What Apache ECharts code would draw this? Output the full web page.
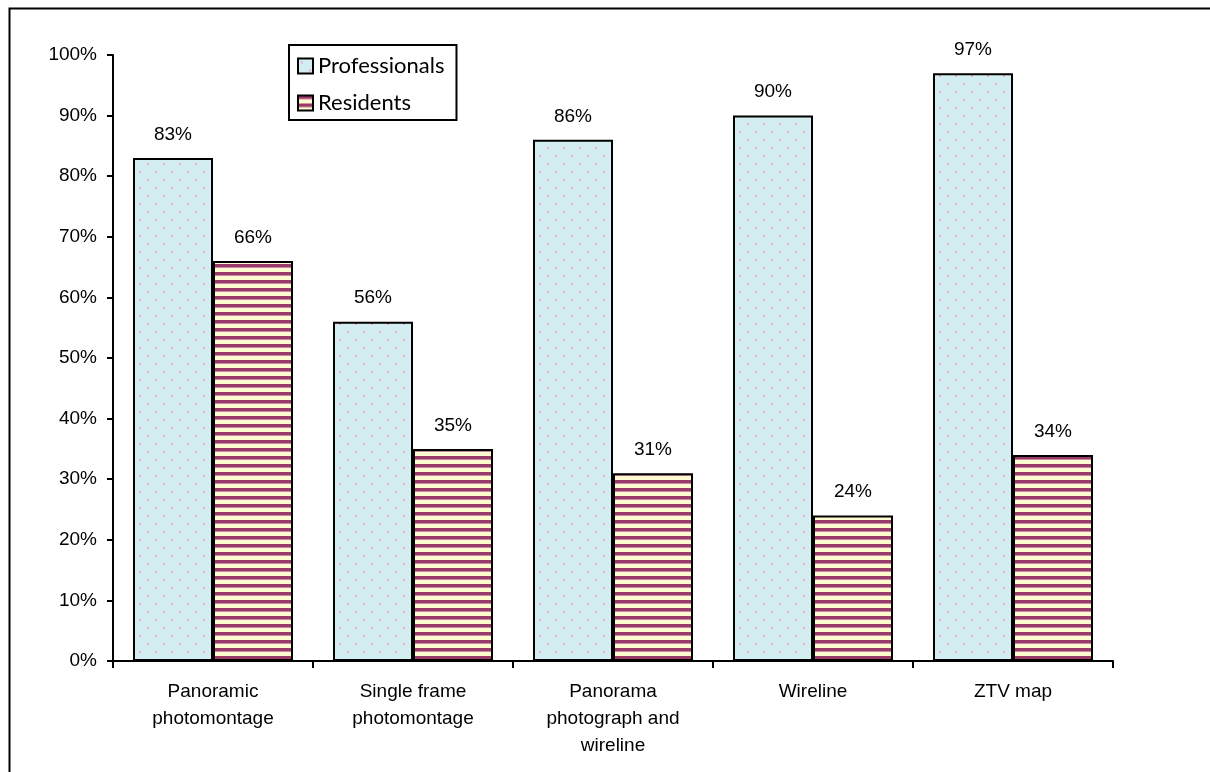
<!DOCTYPE html>
<html>
<head>
<meta charset="utf-8">
<script src="https://cdn.jsdelivr.net/npm/echarts@6/dist/echarts.min.js"></script>
<style>
  html, body { margin: 0; padding: 0; background: #fff; }
  #chart { width: 1210px; height: 772px; }
</style>
</head>
<body>
<div id="chart"></div>
<script>
const categories = [
  "Panoramic\nphotomontage",
  "Single frame\nphotomontage",
  "Panorama\nphotograph and\nwireline",
  "Wireline",
  "ZTV map"
];
const professionals = [83, 56, 86, 90, 97];
const residents = [66, 35, 31, 24, 34];
const yTicks = [0, 10, 20, 30, 40, 50, 60, 70, 80, 90, 100];

// dotted fill: pink dots on pale cyan
function dotPattern() {
  const c = document.createElement("canvas");
  c.width = 16; c.height = 16;
  const ctx = c.getContext("2d");
  ctx.fillStyle = "#d3eef1";
  ctx.fillRect(0, 0, 16, 16);
  ctx.fillStyle = "#f5a3cf";
  ctx.fillRect(3, 3, 2, 2);
  ctx.fillRect(11, 11, 2, 2);
  return c;
}

// horizontal stripes: maroon / cream
function stripePattern() {
  const c = document.createElement("canvas");
  c.width = 8; c.height = 8;
  const ctx = c.getContext("2d");
  ctx.fillStyle = "#fdfbcf";
  ctx.fillRect(0, 0, 8, 8);
  ctx.fillStyle = "#9a3a6a";
  ctx.fillRect(0, 0, 8, 3);
  ctx.fillStyle = "#c98aa3";
  ctx.fillRect(0, 3, 8, 1);
  return c;
}

const chart = echarts.init(document.getElementById("chart"));

const labelStyle = {
  show: true,
  position: "top",
  distance: 14,
  formatter: (p) => p.value + "%",
  fontFamily: "Liberation Sans, Arial",
  fontSize: 19,
  color: "#000"
};

chart.setOption({
  animation: false,
  graphic: [
    {
      type: "rect",
      left: 7,
      top: 6,
      shape: { width: 1400, height: 900 },
      style: { fill: "none", stroke: "#000", lineWidth: 2 },
      silent: true
    }
  ],
  grid: {
    left: 113,
    right: 97,
    top: 55,
    bottom: 111
  },
  legend: {
    orient: "vertical",
    left: 289,
    top: 45,
    padding: [10, 12, 6, 8],
    itemGap: 15,
    itemWidth: 15,
    itemHeight: 15,
    borderColor: "#000",
    borderWidth: 2,
    icon: "rect",
    itemStyle: { borderColor: "#000", borderWidth: 2 },
    textStyle: {
      fontFamily: "Lato, Open Sans",
      fontSize: 22,
      color: "#000"
    },
    data: ["Professionals", "Residents"]
  },
  xAxis: {
    type: "category",
    data: categories,
    axisLine: { lineStyle: { color: "#000", width: 2 } },
    axisTick: { show: true, length: 7, lineStyle: { color: "#000", width: 2 } },
    axisLabel: {
      margin: 17,
      color: "#000",
      fontFamily: "Liberation Sans, Arial",
      fontSize: 19,
      lineHeight: 27,
      interval: 0
    }
  },
  yAxis: {
    type: "value",
    min: 0,
    max: 100,
    interval: 10,
    axisLine: { show: true, lineStyle: { color: "#000", width: 2 } },
    axisTick: { show: true, length: 6, lineStyle: { color: "#000", width: 2 } },
    splitLine: { show: false },
    axisLabel: {
      margin: 16,
      color: "#000",
      fontFamily: "Liberation Sans, Arial",
      fontSize: 19,
      formatter: (v) => (yTicks.includes(v) ? v + "%" : "")
    }
  },
  series: [
    {
      name: "Professionals",
      type: "bar",
      data: professionals,
      barGap: "0%",
      barCategoryGap: "20%",
      itemStyle: {
        color: { image: dotPattern(), repeat: "repeat" },
        borderColor: "#000",
        borderWidth: 2
      },
      label: labelStyle,
      emphasis: { disabled: true }
    },
    {
      name: "Residents",
      type: "bar",
      data: residents,
      itemStyle: {
        color: { image: stripePattern(), repeat: "repeat" },
        borderColor: "#000",
        borderWidth: 2
      },
      label: labelStyle,
      emphasis: { disabled: true }
    }
  ]
});
</script>
</body>
</html>
